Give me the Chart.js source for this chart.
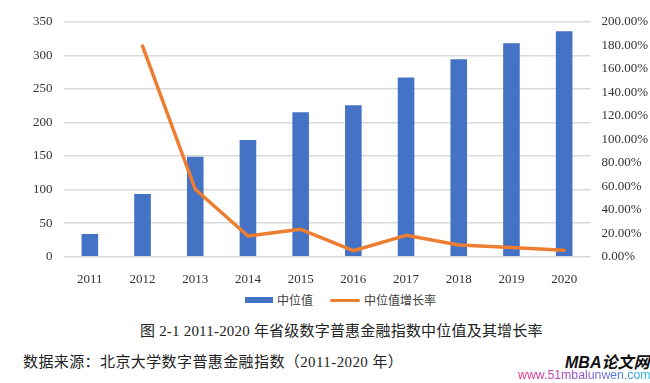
<!DOCTYPE html>
<html>
<head>
<meta charset="utf-8">
<script src="https://cdn.jsdelivr.net/npm/chart.js@4.4.0/dist/chart.umd.min.js"></script>
<style>
  body { margin: 0; background: #fff; width: 650px; height: 383px; overflow: hidden; position: relative; }
  #c { position: absolute; left: 0; top: 0; }
  .txt { position: absolute; white-space: nowrap; font-family: "Liberation Serif", "Noto Sans CJK SC", serif; }
  .sw { position: absolute; }
</style>
</head>
<body>
<canvas id="c" width="650" height="290"></canvas>

<div class="sw" style="left:245px;top:297px;width:28px;height:6px;background:#4472C4"></div>
<div class="txt" style="left:277px;top:291px;line-height:18px;font-size:12px;color:#404040;font-family:'Noto Sans CJK SC'">中位值</div>
<div class="sw" style="left:330px;top:298.5px;width:30px;height:3px;background:#ED7D31;border-radius:1.5px"></div>
<div class="txt" style="left:364px;top:291px;line-height:18px;font-size:12px;color:#404040;font-family:'Noto Sans CJK SC'">中位值增长率</div>

<div class="txt" style="left:140px;top:321px;line-height:20px;font-size:15px;color:#222;letter-spacing:0.2px">图 2-1 2011-2020 年省级数字普惠金融指数中位值及其增长率</div>
<div class="txt" style="left:23px;top:352px;line-height:20px;font-size:15px;color:#222;letter-spacing:0.4px">数据来源：北京大学数字普惠金融指数（2011-2020 年）</div>

<div class="txt" style="left:565px;top:353px;line-height:20px;font-size:16px;font-weight:bold;font-style:italic;color:#111;font-family:'Liberation Sans','Noto Sans CJK SC'">MBA论文网</div>
<div class="txt" style="left:518px;top:367px;line-height:16px;font-size:12.3px;font-family:'Liberation Sans';background:linear-gradient(90deg,#f0307f,#a047c8 40%,#4f7de0 75%,#27b6d8);-webkit-background-clip:text;background-clip:text;color:transparent">www.51mbalunwen.com</div>

<script>
// 中位值与增长率
const years = ['2011', '2012', '2013', '2014', '2015', '2016', '2017', '2018', '2019', '2020'];
const medianValues = [33.8, 93.4, 149.0, 173.8, 215.0, 225.5, 267.0, 294.0, 317.8, 335.7];
const growthRates = [null, 179.3, 57.4, 17.6, 23.3, 5.1, 18.2, 10.0, 7.8, 5.5];
const leftAxis = [0, 350, 50];   // min, max, step
const rightAxis = [0, 200, 20];  // min, max, step (%)

let tickFont = { family: 'Liberation Serif', size: 13 };

let ctx = document.getElementById('c').getContext('2d');
let myChart = new Chart(ctx, {
  type: 'bar',
  data: {
    labels: years,
    datasets: [{
      type: 'line',
      label: '中位值增长率',
      data: growthRates,
      yAxisID: 'y1',
      borderColor: '#ED7D31',
      backgroundColor: '#ED7D31',
      borderWidth: 3.5,
      pointRadius: 0,
      borderCapStyle: 'round',
      borderJoinStyle: 'round',
      tension: 0,
      order: 0
    }, {
      label: '中位值',
      data: medianValues,
      yAxisID: 'y',
      backgroundColor: '#4472C4',
      categoryPercentage: 1,
      barPercentage: 0.315,
      order: 1
    }]
  },
  options: {
    responsive: false,
    devicePixelRatio: 1,
    animation: false,
    layout: { padding: { top: 21.7, left: 0, right: 0, bottom: 0 } },
    plugins: {
      legend: { display: false },
      tooltip: { enabled: false }
    },
    scales: {
      x: {
        grid: { display: false },
        border: { display: false },
        ticks: { font: tickFont, color: '#333', padding: 7, maxRotation: 0 },
        afterFit: (scale) => { scale.height = 33.3; }
      },
      y: {
        position: 'left',
        min: leftAxis[0],
        max: leftAxis[1],
        grid: { color: '#d9d9d9', lineWidth: 1.5, drawTicks: false },
        border: { display: false },
        ticks: { stepSize: leftAxis[2], font: tickFont, color: '#333', padding: 11 },
        afterFit: (scale) => { scale.width = 63.5; }
      },
      y1: {
        position: 'right',
        min: rightAxis[0],
        max: rightAxis[1],
        grid: { display: false, drawTicks: false },
        border: { display: false },
        ticks: {
          stepSize: rightAxis[2], font: tickFont, color: '#333', padding: 11,
          callback: (value) => value.toFixed(2) + '%'
        },
        afterFit: (scale) => { scale.width = 59.5; }
      }
    }
  }
})
</script>
</body>
</html>
